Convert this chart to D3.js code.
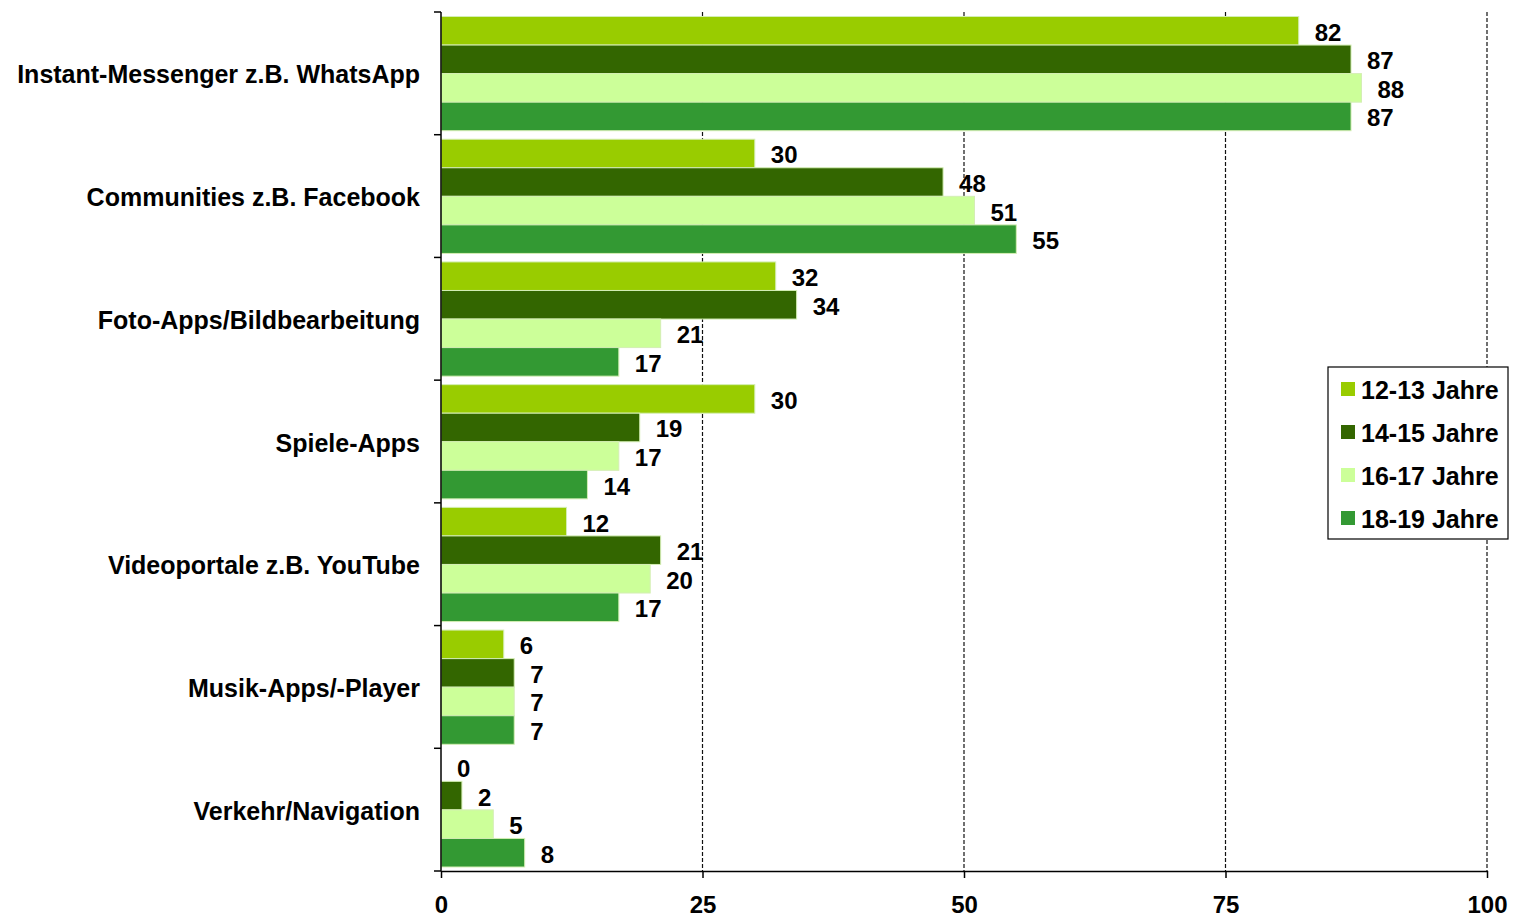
<!DOCTYPE html>
<html>
<head>
<meta charset="utf-8">
<script src="https://cdn.jsdelivr.net/npm/d3@7"></script>
<style>
  html, body { margin: 0; padding: 0; background: #fff; }
  svg { display: block; }
  text { font-family: "Liberation Sans", Arial, sans-serif; font-weight: bold; fill: #000; }
</style>
</head>
<body>
<svg id="chart" width="1517" height="923"></svg>
<script>
const categories = [
  "Instant-Messenger z.B. WhatsApp",
  "Communities z.B. Facebook",
  "Foto-Apps/Bildbearbeitung",
  "Spiele-Apps",
  "Videoportale z.B. YouTube",
  "Musik-Apps/-Player",
  "Verkehr/Navigation"
];
const seriesNames = ["12-13 Jahre", "14-15 Jahre", "16-17 Jahre", "18-19 Jahre"];
const s1213 = [82, 30, 32, 30, 12, 6, 0];
const s1415 = [87, 48, 34, 19, 21, 7, 2];
const s1617 = [88, 51, 21, 17, 20, 7, 5];
const s1819 = [87, 55, 17, 14, 17, 7, 8];
const xTicks = [0, 25, 50, 75, 100];
const colors = ["#99cc00", "#336600", "#ccff99", "#339933"];

(function () {
const seriesValues = [s1213, s1415, s1617, s1819];
const svg = d3.select("#chart");

const mLeft = 441, mRight = 1487, mTop = 12, mBottom = 871;
const x = d3.scaleLinear().domain([0, 100]).range([mLeft, mRight]);
const y = d3.scaleBand().domain(categories).range([mTop, mBottom]).paddingInner(0).paddingOuter(0);
const sub = d3.scaleBand().domain(seriesNames).range([4.5, y.bandwidth() - 4]).padding(0);

// gridlines
svg.append("g").selectAll("line").data(xTicks.filter(d => d > 0)).join("line")
  .attr("x1", d => x(d)).attr("x2", d => x(d))
  .attr("y1", mTop).attr("y2", mBottom)
  .attr("stroke", "#111").attr("stroke-width", 1.2).attr("stroke-dasharray", "4,2");

// bars
const groups = svg.append("g").selectAll("g").data(categories).join("g")
  .attr("transform", c => `translate(0,${y(c)})`);

groups.each(function(c, i) {
  const g = d3.select(this);
  const rows = seriesNames.map((s, k) => ({ s, k, v: seriesValues[k][i] }));
  g.selectAll("rect").data(rows).join("rect")
    .attr("x", x(0))
    .attr("y", d => sub(d.s))
    .attr("width", d => x(d.v) - x(0))
    .attr("height", sub.bandwidth())
    .attr("fill", d => colors[d.k])
    .attr("stroke", d => d.v > 0 ? "#d4eeb4" : "none")
    .attr("stroke-width", 1);
  g.selectAll("text").data(rows).join("text")
    .attr("x", d => x(d.v) + 16)
    .attr("y", d => sub(d.s) + sub.bandwidth() / 2 + 1.5)
    .attr("dominant-baseline", "central")
    .attr("font-size", 24)
    .text(d => d.v);
});

// left axis
const yAxis = svg.append("g");
yAxis.append("line").attr("x1", mLeft).attr("x2", mLeft).attr("y1", mTop).attr("y2", mBottom)
  .attr("stroke", "#000").attr("stroke-width", 1.5);
const bounds = categories.map(c => y(c)).concat([y(categories[categories.length - 1]) + y.bandwidth()]);
yAxis.selectAll("line.tick").data(bounds).join("line").attr("class", "tick")
  .attr("x1", mLeft - 7).attr("x2", mLeft).attr("y1", d => d).attr("y2", d => d)
  .attr("stroke", "#000").attr("stroke-width", 1.5);
yAxis.selectAll("text").data(categories).join("text")
  .attr("x", 420)
  .attr("y", c => y(c) + y.bandwidth() / 2 + 1)
  .attr("text-anchor", "end")
  .attr("dominant-baseline", "central")
  .attr("font-size", 25)
  .text(c => c);

// bottom axis
const xAxis = svg.append("g").attr("transform", `translate(0,${mBottom})`)
  .call(d3.axisBottom(x).tickValues(xTicks).tickSize(7).tickSizeOuter(0).tickPadding(18));
xAxis.select(".domain").attr("stroke", "#000").attr("stroke-width", 1.5);
xAxis.selectAll(".tick line").attr("stroke", "#000").attr("stroke-width", 1.5);
xAxis.selectAll(".tick text").attr("font-size", 24).attr("font-family", "Liberation Sans, Arial, sans-serif").attr("font-weight", "bold").attr("fill", "#000");

// legend
const lg = svg.append("g").attr("transform", "translate(1328,367)");
lg.append("rect").attr("width", 180).attr("height", 172).attr("fill", "#fff").attr("stroke", "#000").attr("stroke-width", 1.2);
const li = lg.selectAll("g").data(seriesNames).join("g")
  .attr("transform", (d, k) => `translate(0,${22 + k * 43})`);
li.append("rect").attr("x", 13).attr("y", -7).attr("width", 14).attr("height", 14)
  .attr("fill", (d, k) => colors[k]);
li.append("text").attr("x", 33).attr("y", 1).attr("dominant-baseline", "central")
  .attr("font-size", 25).text(d => d);
})();
</script>
</body>
</html>
